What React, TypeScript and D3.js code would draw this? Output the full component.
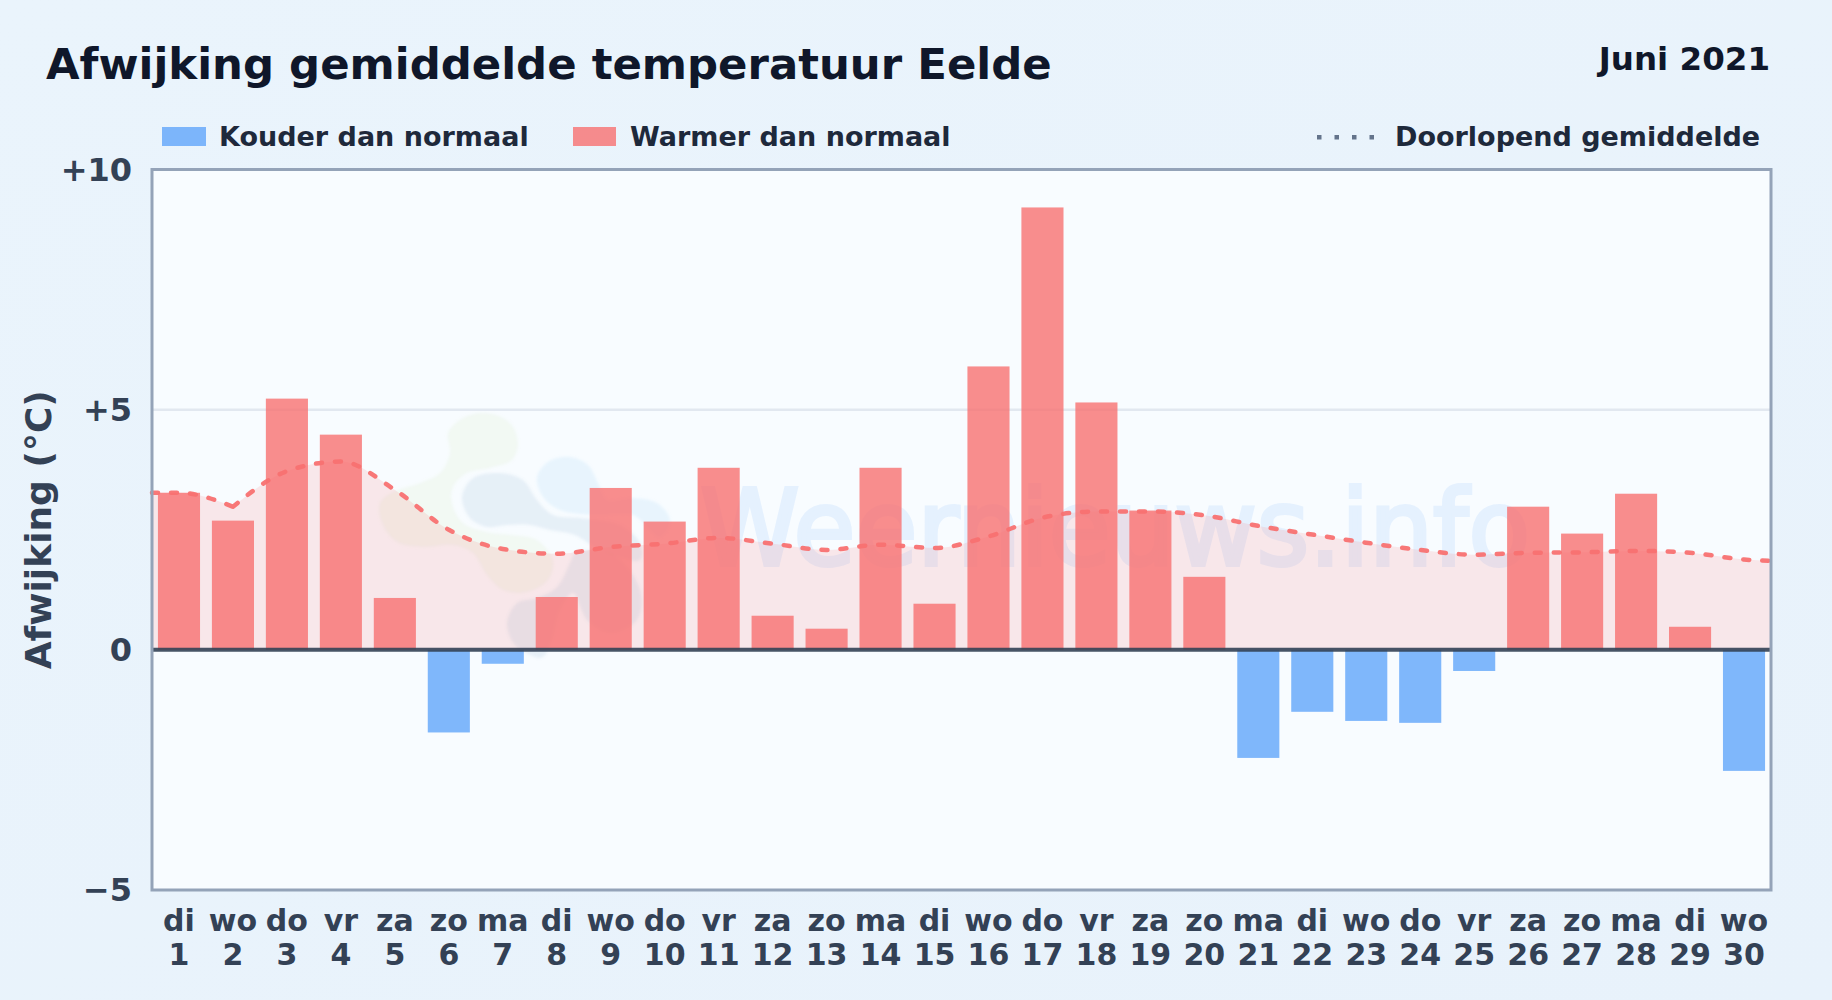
import * as d3 from 'd3';

const WIDTH = 1832;
const HEIGHT = 1000;
const MARGIN = { top: 169.5, right: 61, bottom: 110, left: 152 };

const weekdays = ['di', 'wo', 'do', 'vr', 'za', 'zo', 'ma', 'di', 'wo', 'do', 'vr', 'za', 'zo', 'ma', 'di', 'wo', 'do', 'vr', 'za', 'zo', 'ma', 'di', 'wo', 'do', 'vr', 'za', 'zo', 'ma', 'di', 'wo'];
const days = d3.range(1, 31);
const deviation = [3.27, 2.69, 5.23, 4.48, 1.08, -1.72, -0.29, 1.1, 3.37, 2.67, 3.79, 0.71, 0.44, 3.79, 0.96, 5.9, 9.21, 5.15, 2.9, 1.52, -2.25, -1.29, -1.48, -1.52, -0.44, 2.98, 2.42, 3.25, 0.48, -2.52];
const rolling = [3.27, 2.98, 3.72, 3.92, 3.33, 2.5, 2.1, 2.0, 2.14, 2.21, 2.33, 2.21, 2.08, 2.19, 2.12, 2.36, 2.75, 2.88, 2.88, 2.8, 2.58, 2.4, 2.23, 2.08, 1.98, 2.02, 2.03, 2.06, 2.02, 1.88];
const rollingStart = 3.27;
const rollingEnd = 1.85;
const yTicks = [10, 5, 0, -5];
const yTickLabels = ['+10', '+5', '0', '\u22125'];

// watermark logo outlines, in page pixels
const blobGreen = [[448, 433], [463, 418], [487, 413], [510, 423], [518, 443], [512, 460], [490, 468], [467, 473], [453, 487], [452, 503], [463, 523], [487, 532], [513, 535], [537, 540], [553, 560], [548, 580], [527, 592], [503, 590], [487, 575], [473, 553], [453, 545], [423, 547], [397, 542], [382, 523], [380, 503], [393, 492], [420, 483], [440, 473], [450, 453]];
const blobLight = [[537, 477], [548, 462], [570, 457], [588, 465], [598, 483], [607, 500], [633, 498], [657, 503], [670, 520], [660, 537], [633, 515], [593, 515], [560, 510], [543, 497]];
const blobMid = [[462, 497], [473, 478], [500, 473], [523, 480], [537, 500], [553, 515], [580, 518], [620, 525], [640, 543], [640, 560], [600, 550], [575, 535], [550, 530], [530, 525], [507, 525], [487, 527], [470, 518]];
const blobLow = [[507, 623], [517, 603], [537, 598], [557, 587], [570, 563], [575, 553], [593, 550], [617, 557], [640, 590], [637, 620], [610, 633], [587, 620], [573, 593], [560, 610], [552, 640], [545, 655], [540, 658], [515, 645]];

const innerW = WIDTH - MARGIN.left - MARGIN.right;
const innerH = 720.5;

export default function App() {
  const x = d3.scaleBand<number>().domain(days).range([MARGIN.left, MARGIN.left + innerW]).paddingInner(0.22).paddingOuter(0.11);
  const xLine = d3.scaleLinear().domain([0.5, 30.5]).range([MARGIN.left, MARGIN.left + innerW]);
  const y = d3.scaleLinear().domain([-5, 10]).range([MARGIN.top + innerH, MARGIN.top]);

  const linePts: [number, number][] = [
    [0.5, rollingStart],
    ...rolling.map((v, i) => [days[i], v] as [number, number]),
    [30.5, rollingEnd],
  ];
  // the curve has a kink at day 2, so it is built in two pieces
  const pieces = [linePts.slice(0, 3), linePts.slice(2)];
  const line = d3.line<[number, number]>().x((d) => xLine(d[0])).y((d) => y(d[1])).curve(d3.curveMonotoneX);
  const area = d3.area<[number, number]>().x((d) => xLine(d[0])).y0(y(0)).y1((d) => y(d[1])).curve(d3.curveMonotoneX);
  const linePath = pieces.map((p) => line(p)).join('');
  const areaPath = pieces.map((p) => area(p)).join('');
  const blob = d3.line().curve(d3.curveCatmullRomClosed);

  const fontFamily = '"DejaVu Sans", sans-serif';
  const right = MARGIN.left + innerW;
  const bottom = MARGIN.top + innerH;

  return (
    <svg
      width={WIDTH}
      height={HEIGHT}
      viewBox={`0 0 ${WIDTH} ${HEIGHT}`}
      style={{ position: 'absolute', left: 0, top: 0, display: 'block' }}
      fontFamily={fontFamily}
      fontWeight={700}
    >
      <defs>
        <linearGradient id="page" x1="0" y1="0" x2="1" y2="1">
          <stop offset="0" stopColor="#eaf4fc" />
          <stop offset="1" stopColor="#e8f2fb" />
        </linearGradient>
        <clipPath id="plot">
          <rect x={MARGIN.left} y={MARGIN.top} width={innerW} height={innerH} />
        </clipPath>
        <filter id="soft">
          <feGaussianBlur stdDeviation="1.5" />
        </filter>
      </defs>
      <rect width={WIDTH} height={HEIGHT} fill="url(#page)" />

      <text x={46} y={79} fontSize={43.4} fill="#0f172a">Afwijking gemiddelde temperatuur Eelde</text>
      <text x={1770} y={70} fontSize={32.5} fill="#0f172a" textAnchor="end">Juni 2021</text>

      {/* legend */}
      <rect x={162} y={127} width={44} height={19} fill="#60a5fa" fillOpacity={0.8} />
      <text x={219} y={145.5} fontSize={27} fill="#1e293b">Kouder dan normaal</text>
      <rect x={573} y={127} width={43} height={19} fill="#f87171" fillOpacity={0.8} />
      <text x={630} y={145.5} fontSize={27} fill="#1e293b">Warmer dan normaal</text>
      {[0, 1, 2, 3].map((i) => (
        <rect key={i} x={1317 + i * 17.5} y={135} width={4.5} height={4.5} fill="#64748b" />
      ))}
      <text x={1395} y={145.5} fontSize={27} fill="#1e293b">Doorlopend gemiddelde</text>

      {/* plot area */}
      <rect x={MARGIN.left} y={MARGIN.top} width={innerW} height={innerH} fill="#f8fcff" />
      <g clipPath="url(#plot)">
        <g filter="url(#soft)">
          <path d={blob(blobGreen as [number, number][]) ?? ''} fill="#c6e0a0" fillOpacity={0.12} />
          <path d={blob(blobLight as [number, number][]) ?? ''} fill="#93cdf5" fillOpacity={0.16} />
          <path d={blob(blobMid as [number, number][]) ?? ''} fill="#6f9cc4" fillOpacity={0.13} />
          <path d={blob(blobLow as [number, number][]) ?? ''} fill="#6f9cc4" fillOpacity={0.13} />
        </g>
        <g opacity={0.12}>
          <text
            x={700}
            y={565}
            fontSize={105}
            fontWeight={400}
            textLength={830}
            lengthAdjust="spacingAndGlyphs"
            stroke="#60a5fa"
            strokeWidth={4}
            fill="#60a5fa"
          >
            Weernieuws.info
          </text>
        </g>
      </g>

      {yTicks.filter((t) => t === 5).map((t) => (
        <line key={t} x1={MARGIN.left} x2={right} y1={y(t)} y2={y(t)} stroke="#e2e8f0" strokeWidth={2.5} />
      ))}

      <path d={areaPath} fill="#f87171" fillOpacity={0.15} />

      {deviation.map((v, i) => (
        <rect
          key={days[i]}
          x={x(days[i])}
          y={v >= 0 ? y(v) : y(0)}
          width={x.bandwidth()}
          height={Math.abs(y(v) - y(0))}
          fill={v >= 0 ? '#f87171' : '#60a5fa'}
          fillOpacity={0.8}
        />
      ))}

      <path
        d={linePath}
        fill="none"
        stroke="#f87171"
        strokeOpacity={0.95}
        strokeWidth={4.5}
        strokeDasharray="6 13"
        strokeLinecap="round"
      />

      <line x1={MARGIN.left} x2={right} y1={y(0)} y2={y(0)} stroke="#334155" strokeOpacity={0.9} strokeWidth={4} />
      <rect x={MARGIN.left} y={MARGIN.top} width={innerW} height={innerH} fill="none" stroke="#94a3b8" strokeWidth={3} />

      {/* axes */}
      {yTicks.map((t, i) => (
        <text key={t} x={132} y={y(t) + 11} fontSize={32} fill="#334155" textAnchor="end">{yTickLabels[i]}</text>
      ))}
      <text
        transform={`translate(51,${(MARGIN.top + bottom) / 2}) rotate(-90)`}
        fontSize={36}
        fill="#334155"
        textAnchor="middle"
      >
        Afwijking (°C)
      </text>
      {days.map((d, i) => (
        <g key={d} fontSize={30} fill="#334155" textAnchor="middle">
          <text x={(x(d) ?? 0) + x.bandwidth() / 2} y={931}>{weekdays[i]}</text>
          <text x={(x(d) ?? 0) + x.bandwidth() / 2} y={965}>{d}</text>
        </g>
      ))}
    </svg>
  );
}
